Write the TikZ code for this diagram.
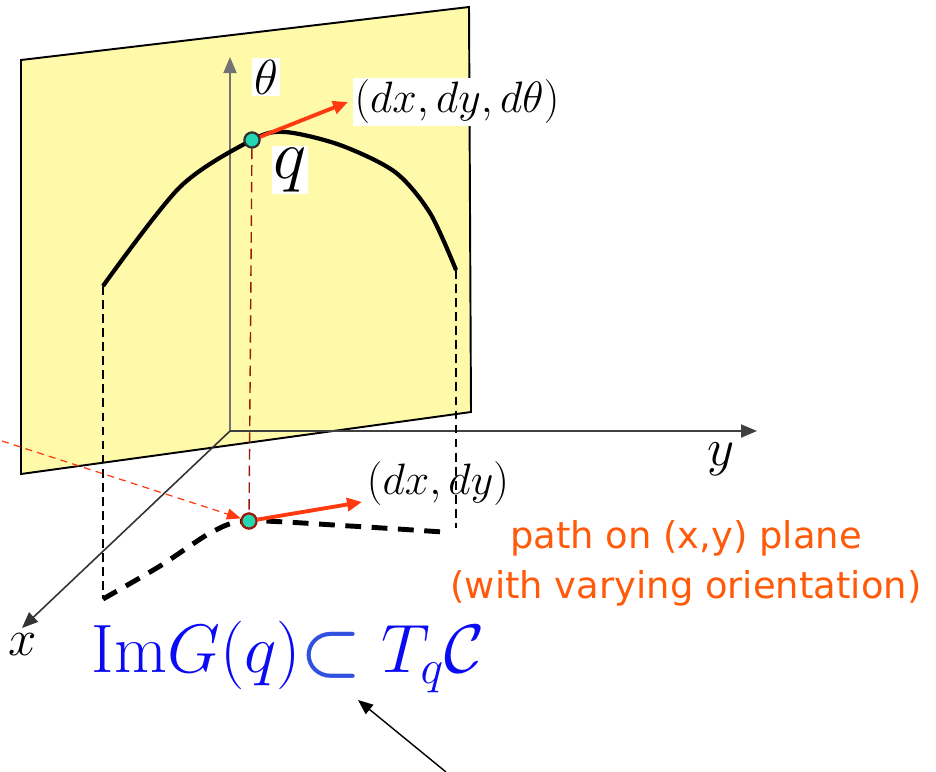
\RequirePackage{fix-cm}
\documentclass[tikz,border=0pt]{standalone}
\usepackage{amsmath}
\usepackage{fontspec}
\newfontfamily\notefont{DejaVu Sans}
\usetikzlibrary{arrows.meta}
\definecolor{planefill}{HTML}{FFFAAA}
\definecolor{vecred}{HTML}{FF3A10}
\definecolor{noteorange}{HTML}{FF5A0A}
\definecolor{dotteal}{HTML}{22D8B2}
\definecolor{dropred}{HTML}{9A1A0A}
\definecolor{formblue}{HTML}{0A0AF5}
\definecolor{subblue}{HTML}{3050E0}

\begin{document}
\begin{tikzpicture}[x=0.02cm, y=-0.02cm,
  plane/.style={draw=black, fill=planefill, line width=1.1pt},
  axis/.style={line width=1.1pt, -{Triangle[length=0.32cm, width=0.26cm]}},
  curve/.style={line width=2.4pt},
  drop/.style={line width=0.8pt, dash pattern=on 5pt off 3pt},
  walk/.style={line width=2.8pt, dash pattern=on 9pt off 6pt},
  vec/.style={vecred, line width=2.2pt, -{Triangle[length=0.3cm, width=0.26cm]}},
  dot/.style={circle, fill=dotteal, draw=#1, line width=1.2pt, minimum size=0.3cm, inner sep=0pt},
  lbl/.style={inner sep=1pt},
  wlbl/.style={fill=white, inner sep=1pt}]

  \useasboundingbox (0,0) rectangle (936,771);

  % theta plane
  \draw[plane] (21,60) -- (469,7) -- (471,412) -- (21,474) -- cycle;

  % axes
  \coordinate (O) at (230,431);
  \coordinate (thtip) at (230,57);
  \coordinate (ytip) at (757,431);
  \coordinate (xtip) at (22,628);
  \draw[axis, draw=black!55] (O) -- (thtip);
  \draw[axis, draw=black!75] (O) -- (ytip);
  \draw[axis, draw=black!80, line width=0.9pt] (O) -- (xtip);
  \node[wlbl, font=\fontsize{28}{30}\selectfont] (thlbl) at (266,77) {$\theta$};
  \node[lbl, font=\fontsize{30}{32}\selectfont] (ylbl) at (721,459) {$y$};
  \node[lbl, font=\fontsize{29}{32}\selectfont] (xlbl) at (23,645) {$x$};

  % curve and its shadow on the (x,y) plane
  \coordinate (cL) at (103,286);
  \coordinate (cR) at (456,270);
  \coordinate (pL) at (103,599);
  \coordinate (rB) at (456,528);
  \node[dot=black!80] (q) at (252,140) {};
  \node[dot=dropred] (qxy) at (249,521) {};
  \draw[drop] (cL) -- (pL);
  \draw[drop] (cR) -- (rB);
  \draw[drop, dropred, dash pattern=on 6pt off 3.5pt] (q) -- (qxy);
  \draw[curve] plot[smooth, tension=0.5] coordinates {(103,286) (180,187) (252,140) (285,132) (340,145) (395,172) (430,213) (456,270)};
  \draw[walk] plot[smooth, tension=0.5] coordinates {(103,599) (160,566) (212,532) (249,521) (350,526) (443,532)};
  \node[dot=black!80] at (q) {};
  \node[dot=dropred] at (qxy) {};

  % velocities
  \coordinate (vtop) at (348,102);
  \coordinate (vbot) at (362,502);
  \coordinate (ray) at (2,441);
  \draw[vec] (q) -- (vtop);
  \draw[vec] (qxy) -- (vbot);
  \draw[vecred, line width=0.7pt, dash pattern=on 4pt off 3pt, -{Triangle[length=0.28cm, width=0.22cm]}] (ray) -- (qxy);
  \node[wlbl, font=\fontsize{25}{28}\selectfont] (dxyth) at (457,102) {$(dx,dy,d\theta)$};
  \node[lbl, font=\fontsize{25}{28}\selectfont] (dxy) at (438,484) {$(dx,dy)$};
  \node[wlbl, font=\fontsize{40}{44}\selectfont] (qlbl) at (290,170) {$q$};

  % notes
  \node[text=noteorange, align=center, font=\notefont\fontsize{21}{28.5}\selectfont] (note) at (686,563) {path on (x,y) plane\\(with varying orientation)};
  \node[text=formblue, font=\fontsize{39}{43}\selectfont] (imG) at (288,657) {$\mathrm{Im}G(q){\color{subblue}\boldsymbol{\subset}}\;T_q\mathcal{C}$};
  \coordinate (callout) at (446,772);
  \coordinate (ptr) at (358,700);
  \draw[line width=0.8pt, -{Triangle[length=0.3cm, width=0.24cm]}] (callout) -- (ptr);
\end{tikzpicture}
\end{document}
